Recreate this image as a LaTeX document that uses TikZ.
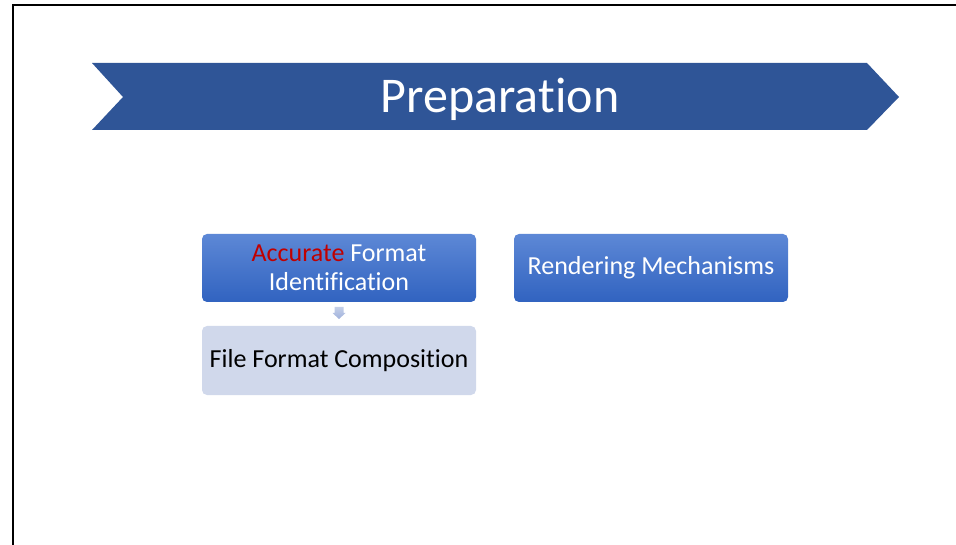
\documentclass[tikz,border=0pt]{standalone}
\usepackage{fontspec}
\setmainfont[Ligatures=NoCommon]{Carlito}
\usepackage{tikz}
\usetikzlibrary{calc}

\definecolor{bannerblue}{RGB}{47,85,151}
\definecolor{boxtop}{RGB}{93,136,214}
\definecolor{boxbottom}{RGB}{49,99,192}
\definecolor{boxpale}{RGB}{208,216,235}
\definecolor{arrowtop}{RGB}{196,207,232}
\definecolor{arrowbottom}{RGB}{160,178,220}
\definecolor{accred}{RGB}{192,0,0}

\tikzset{
    stepblue/.style={rounded corners=5pt, shading=axis, top color=boxtop, bottom color=boxbottom,
        minimum width=274pt, minimum height=68pt, text=white, align=center, font=\fontsize{26}{29}\selectfont},
    steppale/.style={rounded corners=5pt, fill=boxpale, minimum width=274pt, minimum height=69pt,
        text=black, align=center, font=\fontsize{26}{29}\selectfont}
}

\begin{document}
\begin{tikzpicture}[x=1pt,y=-1pt]
            \useasboundingbox (0,0) rectangle (956,545);
            \draw [line width=2.2pt] (13,545) -- (13,5) -- (956,5);
            % banner
            \fill [bannerblue] (92,63) -- (867,63) -- (899,97) -- (867,130) -- (92,130) -- (123,97) -- cycle;
            \node [text=white, font=\fontsize{50}{56}\selectfont] (title) at (500,99) {Preparation};
            % steps
            \node [stepblue] (ident) at (339,268) {\textcolor{accred}{Accurate} Format\\Identification};
            \node [stepblue] (render) at (651,268) {Rendering Mechanisms};
            \node [steppale] (compo) at (339,360.5) {File Format Composition};
            \coordinate (down) at ($(ident.south)!0.5!(compo.north)$);
            \shade [top color=arrowtop, bottom color=arrowbottom]
                ($(down)+(-4.5,-7)$) -- ($(down)+(4.5,-7)$) -- ($(down)+(4.5,-1)$) -- ($(down)+(6.5,-1)$)
                -- ($(down)+(0,5)$) -- ($(down)+(-6.5,-1)$) -- ($(down)+(-4.5,-1)$) -- cycle;
        \end{tikzpicture}
\end{document}
